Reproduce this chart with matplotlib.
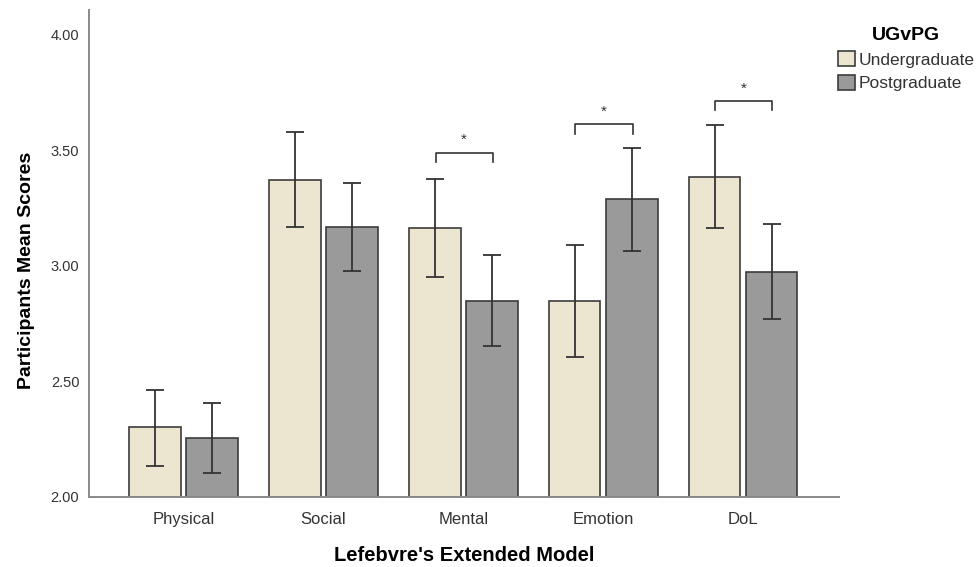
import matplotlib
matplotlib.use("Agg")
import matplotlib.pyplot as plt
import numpy as np
from matplotlib.patches import Patch

categories = ["Physical", "Social", "Mental", "Emotion", "DoL"]
groups = ["Undergraduate", "Postgraduate"]
ug_mean = [2.30, 3.373, 3.165, 2.847, 3.385]
ug_low = [2.132, 3.169, 2.951, 2.605, 3.165]
ug_high = [2.463, 3.578, 3.377, 3.090, 3.610]
pg_mean = [2.252, 3.169, 2.847, 3.288, 2.974]
pg_low = [2.100, 2.979, 2.651, 3.064, 2.771]
pg_high = [2.404, 3.357, 3.045, 3.512, 3.180]
# significance brackets: category index -> bracket height
sig_idx = [2, 3, 4]
sig_y = [3.49, 3.612, 3.713]
yticks = [2.00, 2.50, 3.00, 3.50, 4.00]

plt.rcParams['font.family'] = ['Liberation Sans', 'DejaVu Sans']

fig = plt.figure(figsize=(9.76, 5.67), dpi=100)
ax = fig.add_axes([89/976, (567-496.5)/567, (839-89)/976, (496.5-10)/567])

x = np.arange(len(categories))
off = 0.204
w = 0.368
ug_col = "#ECE5D0"
pg_col = "#9A9A9A"
edge = "#3C3C3C"

ug_m = np.array(ug_mean); pg_m = np.array(pg_mean)
ax.bar(x - off, ug_m - 2, w, bottom=2, color=ug_col, edgecolor=edge, linewidth=1.2, zorder=2)
ax.bar(x + off, pg_m - 2, w, bottom=2, color=pg_col, edgecolor=edge, linewidth=1.2, zorder=2)
ax.errorbar(x - off, ug_m, yerr=[ug_m - np.array(ug_low), np.array(ug_high) - ug_m],
            fmt='none', ecolor="#333333", elinewidth=1.3, capsize=6.5, capthick=1.3, zorder=3)
ax.errorbar(x + off, pg_m, yerr=[pg_m - np.array(pg_low), np.array(pg_high) - pg_m],
            fmt='none', ecolor="#333333", elinewidth=1.3, capsize=6.5, capthick=1.3, zorder=3)

for i, yb in zip(sig_idx, sig_y):
    x0 = i - off + 0.005
    x1 = i + off + 0.005
    ax.plot([x0, x0, x1, x1], [yb - 0.04, yb, yb, yb - 0.04], color="#333333", lw=1.2,
            solid_joinstyle='round', zorder=3)
    ax.text(i + 0.005, yb + 0.025, "*", ha='center', va='bottom', fontsize=11, color="#333333")

ax.set_xlim(-0.676, 4.685)
ax.set_ylim(2.0, 4.108)
ax.set_xticks(x)
ax.set_xticklabels(categories, fontsize=12, color="#333333")
ax.set_yticks(yticks)
ax.set_yticklabels([f"{v:.2f}" for v in yticks], fontsize=10.5, color="#333333")
ax.tick_params(axis='both', length=0)
ax.tick_params(axis='x', pad=11)
ax.tick_params(axis='y', pad=7)
for s in ['top', 'right']:
    ax.spines[s].set_visible(False)
for s in ['left', 'bottom']:
    ax.spines[s].set_color("#8A8A8A")
    ax.spines[s].set_linewidth(1.4)

ax.set_xlabel("Lefebvre's Extended Model", fontsize=14.5, fontweight='bold', labelpad=14)
ax.set_ylabel("Participants Mean Scores", fontsize=14, fontweight='bold')
ax.yaxis.set_label_coords(-0.072, 0.465)

handles = [Patch(facecolor=ug_col, edgecolor=edge, linewidth=1.2),
           Patch(facecolor=pg_col, edgecolor=edge, linewidth=1.2)]
leg = fig.legend(handles, groups, loc='upper left', bbox_to_anchor=(838/976, (567-27)/567),
                 frameon=False, fontsize=12.5, title="UGvPG",
                 title_fontproperties={'weight': 'bold', 'size': 14},
                 handlelength=1.0, handleheight=1.0, handletextpad=0.2, labelspacing=0.4,
                 borderpad=0, borderaxespad=0)
leg._legend_box.sep = 5
for t in leg.get_texts():
    t.set_color("#333333")

fig.savefig("out.png", dpi=100)
